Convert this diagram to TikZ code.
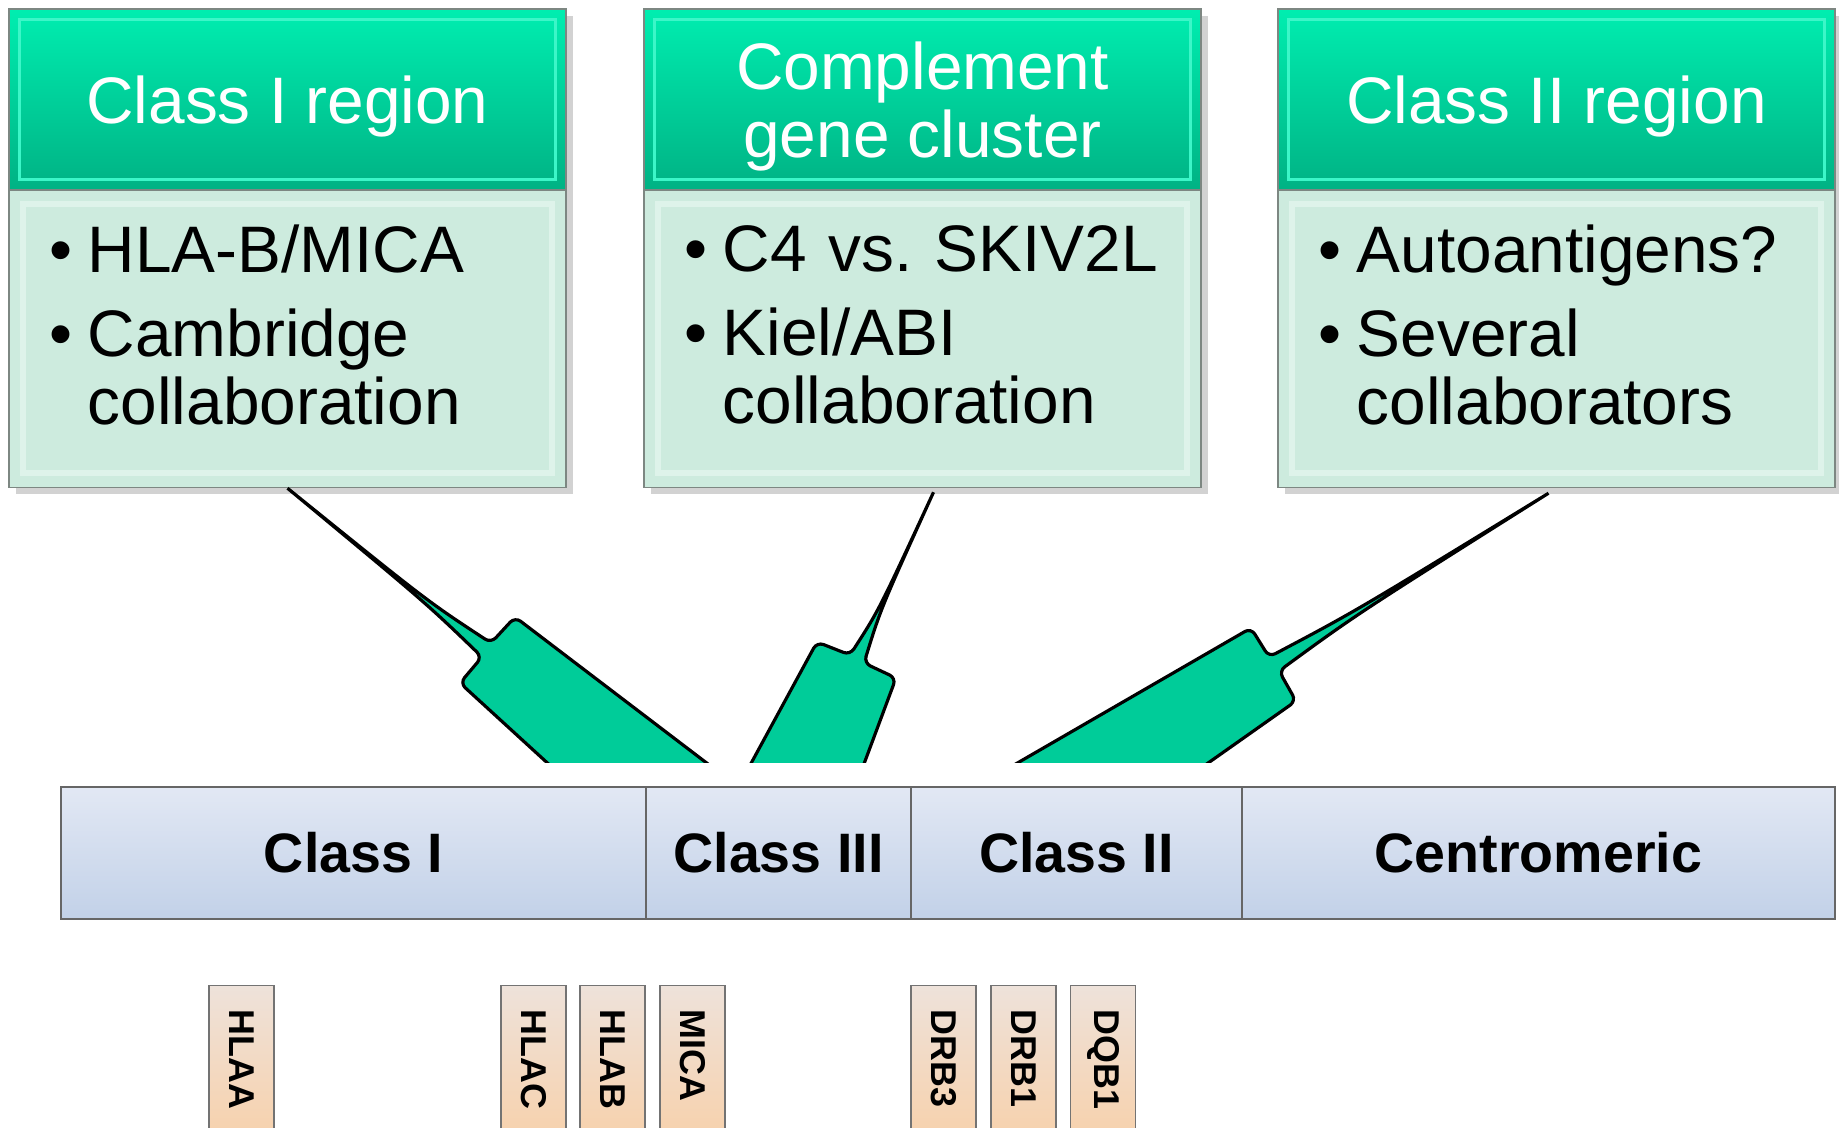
\documentclass[tikz,border=0pt]{standalone}
\usepackage{fontspec}
\setmainfont{Liberation Sans}
\usetikzlibrary{positioning,shadows}

\definecolor{headtop}{RGB}{0,238,176}
\definecolor{headbot}{RGB}{0,178,132}
\definecolor{headedge}{RGB}{60,246,200}
\definecolor{bodyfill}{RGB}{205,235,222}
\definecolor{bodyedge}{RGB}{222,243,234}
\definecolor{framegray}{RGB}{125,135,130}
\definecolor{pointer}{RGB}{0,204,153}
\definecolor{bartop}{RGB}{226,232,244}
\definecolor{barbot}{RGB}{194,209,232}
\definecolor{genetop}{RGB}{250,204,158}
\definecolor{genebot}{RGB}{238,226,218}

\newcommand{\bul}{\hspace*{0.21cm}\makebox[0.38cm][l]{\textbullet}}
\newcommand{\lowstrut}{\rule[-0.28cm]{0pt}{0.28cm}}

\begin{document}
\begin{tikzpicture}[x=0.01cm, y=-0.01cm,
    font=\fontsize{18.7}{19.3}\selectfont,
    head/.style={draw=framegray, top color=headtop, bottom color=headbot,
      text=white, align=center, minimum width=5.57cm, minimum height=1.81cm,
      inner sep=0pt, outer sep=0pt, text depth=-0.08cm,
      drop shadow={shadow xshift=2pt, shadow yshift=-2pt, fill=black!35},
      path picture={\draw[headedge, line width=0.8pt]
        ([shift={(3pt,-3pt)}]path picture bounding box.north west) rectangle
        ([shift={(-3pt,3pt)}]path picture bounding box.south east);}},
    body/.style={draw=framegray, fill=bodyfill, align=left, text width=5.17cm,
      minimum width=5.57cm, minimum height=2.97cm, inner xsep=0.2cm,
      inner ysep=0pt, outer sep=0pt,
      drop shadow={shadow xshift=2pt, shadow yshift=-2pt, fill=black!35},
      path picture={\draw[bodyedge, line width=1.6pt]
        ([shift={(4pt,-4pt)}]path picture bounding box.north west) rectangle
        ([shift={(-4pt,4pt)}]path picture bounding box.south east);}},
    pointer/.style={draw=black, line width=0.9pt, fill=pointer,
      rounded corners=2pt},
    seg/.style={draw=black!60, top color=bartop, bottom color=barbot,
      font=\fontsize{15.8}{18}\selectfont\bfseries, minimum height=1.32cm,
      inner sep=0pt, outer sep=0pt},
    gene/.style={draw=black!55, rotate=-90, anchor=west, top color=genebot,
      bottom color=genetop, font=\fontsize{10.2}{12}\selectfont\bfseries,
      minimum width=2cm, minimum height=0.65cm, text width=1.52cm,
      align=left, inner xsep=0.24cm, inner ysep=0pt}]

  \useasboundingbox (0,0) rectangle (1839,1128);
  \clip (0,0) rectangle (1839,1128);

  % Region boxes
  \node[head] (h1) at (287.5,99.5) {Class I region};
  \node[body, below=0pt of h1] (b1) {\bul HLA-B/MICA\\[4.5pt]
    \bul Cambridge\\ \hphantom{\bul}collaboration\lowstrut};

  \node[head] (h2) at (922.5,99.5) {Complement\\gene cluster};
  \node[body, below=0pt of h2] (b2) {\bul C4 vs.\ SKIV2L\\[4.5pt]
    \bul Kiel/ABI\\ \hphantom{\bul}collaboration\lowstrut};

  \node[head] (h3) at (1556.5,99.5) {Class II region};
  \node[body, below=0pt of h3] (b3) {\bul Autoantigens?\\[4.5pt]
    \bul Several\\ \hphantom{\bul}collaborators\lowstrut};

  % Pointers, cut off above the bar
  \begin{scope}
    \clip (0,0) rectangle (1839,763);
    \path[pointer] ([yshift=-0.01cm]b1.south) .. controls (427,601) .. (491,643)
      -- (515,617) -- (729,780) -- (566,780) -- (460,683) -- (482,657)
      .. controls (426,603) .. ([yshift=-0.01cm]b1.south);
    \path[pointer] ([xshift=0.11cm,yshift=-0.05cm]b2.south) .. controls (879,610)
      .. (850,655) -- (817,642) -- (742,780) -- (858,780) -- (896,678)
      -- (864,663) .. controls (881,608) .. ([xshift=0.11cm,yshift=-0.05cm]b2.south);
    \path[pointer] ([xshift=-0.08cm,yshift=-0.06cm]b3.south) .. controls (1356,611)
      .. (1269,657) -- (1251,628) -- (988,780) -- (1184,780) -- (1296,701)
      -- (1279,671) .. controls (1357,614) .. ([xshift=-0.08cm,yshift=-0.06cm]b3.south);
  \end{scope}

  % Chromosome bar
  \node[seg, minimum width=5.85cm] (s1) at (353.5,853) {Class I};
  \node[seg, minimum width=2.65cm] (s2) at (778.5,853) {Class III};
  \node[seg, minimum width=3.31cm] (s3) at (1076.5,853) {Class II};
  \node[seg, minimum width=5.93cm] (s4) at (1538.5,853) {Centromeric};

  % Genes
  \foreach \gname/\gx in {HLAA/241.5, HLAC/533.5, HLAB/612.5, MICA/692.5,
    DRB3/943.5, DRB1/1023.5, DQB1/1103}
    \node[gene] (g\gname) at (\gx,985) {\gname};

\end{tikzpicture}
\end{document}
